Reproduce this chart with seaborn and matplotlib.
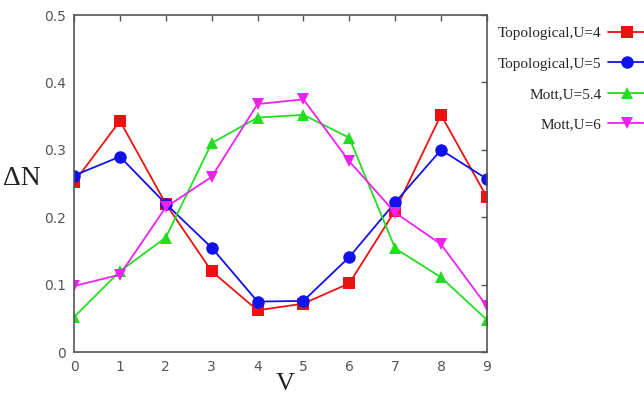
import numpy as np
import pandas as pd
import matplotlib
matplotlib.use('Agg')
import matplotlib.pyplot as plt
import seaborn as sns

# data
v = [0, 1, 2, 3, 4, 5, 6, 7, 8, 9]
topo_u4 = [0.252, 0.343, 0.220, 0.120, 0.062, 0.072, 0.102, 0.210, 0.352, 0.230]
topo_u5 = [0.262, 0.290, 0.220, 0.155, 0.075, 0.076, 0.141, 0.222, 0.300, 0.257]
mott_u54 = [0.052, 0.120, 0.170, 0.310, 0.348, 0.352, 0.318, 0.154, 0.111, 0.048]
mott_u6 = [0.098, 0.115, 0.215, 0.260, 0.368, 0.375, 0.283, 0.207, 0.160, 0.068]
labels = ['Topological,U=4', 'Topological,U=5', 'Mott,U=5.4', 'Mott,U=6']
yticks = [0, 0.1, 0.2, 0.3, 0.4, 0.5]
ytick_labels = ['0', '0.1', '0.2', '0.3', '0.4', '0.5']

df = pd.DataFrame({
    'V': v * 4,
    'dN': topo_u4 + topo_u5 + mott_u54 + mott_u6,
    'series': np.repeat(labels, len(v)),
})

sns.set_style('white')
plt.rcParams['font.family'] = ['DejaVu Sans']

fig = plt.figure(figsize=(6.44, 3.97), dpi=100)
ax = fig.add_axes([0.115, 0.113, 0.641, 0.849])

colors = ['#ee1111', '#1111ee', '#22dd22', '#ee22ee']
sns.lineplot(data=df, x='V', y='dN', hue='series', style='series',
             palette=colors, markers=['s', 'o', '^', 'v'], dashes=False,
             markersize=9, markeredgewidth=0, linewidth=1.3, ax=ax, legend=True)

ax.set_xlim(0, 9)
ax.set_ylim(0, 0.5)
ax.set_xticks(v)
ax.set_yticks(yticks)
ax.set_yticklabels(ytick_labels)
ax.tick_params(direction='in', top=True, right=True, length=4, width=1,
               color='#555555', labelcolor='#555555', labelsize=10, pad=6)
for s in ax.spines.values():
    s.set_color('#555555')
    s.set_linewidth(1.2)
ax.set_xlabel('')
ax.set_ylabel('')

# legend outside on the right, marker after the text
handles, labs = ax.get_legend_handles_labels()
ax.get_legend().remove()
fig.legend(handles, labs, loc='upper left', bbox_to_anchor=(0.752, 0.968),
           markerfirst=False, frameon=False, handlelength=2.5,
           handletextpad=0.4, labelspacing=1.1,
           prop={'family': 'Liberation Serif', 'size': 11})

fig.text(0.004, 1 - 178 / 397, '\u0394N', ha='left', va='center',
         family='Liberation Serif', fontsize=20, color='#222222')
fig.text(285 / 644, 0.004, 'V', ha='center', va='bottom',
         family='Liberation Serif', fontsize=19, color='#222222')

fig.savefig('out.png', dpi=100)
